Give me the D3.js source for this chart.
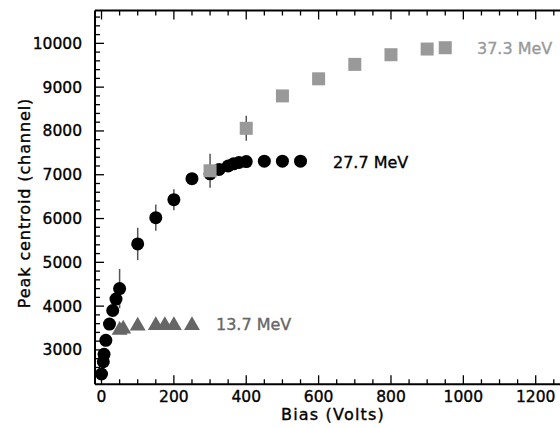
<!DOCTYPE html>
<html><head><meta charset="utf-8">
<script src="https://cdn.jsdelivr.net/npm/d3@7"></script>
<style>
body{margin:0;background:#fff;}
svg{display:block;font-family:"DejaVu Sans",sans-serif;}
text{stroke-width:0.35px;}
</style></head>
<body>
<svg id="c" width="560" height="428"></svg>
<script>
// 27.7 MeV (circles)
const circleVolts = [0,5,7,12,22,31,40,50,100,150,200,250,300,325,350,365,380,400,450,500,550];
const circleCentroid = [2450,2730,2900,3220,3590,3900,4160,4400,5420,6020,6430,6910,7020,7120,7200,7250,7280,7300,7310,7310,7310];
const circleErr = [0,0,0,0,0,0,0,450,370,300,240,0,0,0,0,0,0,0,0,0,0];
// 37.3 MeV (squares)
const squareVolts = [300,400,500,600,700,800,900,950];
const squareCentroid = [7090,8060,8800,9190,9520,9740,9870,9900];
const squareErr = [390,285,0,0,0,0,0,0];
// 13.7 MeV (triangles)
const triVolts = [50,60,100,150,175,200,250];
const triCentroid = [3450,3480,3550,3560,3560,3560,3560];
const xTicks = [0,200,400,600,800,1000,1200];
const yTicks = [3000,4000,5000,6000,7000,8000,9000,10000];
const seriesLabels = ["37.3 MeV","27.7 MeV","13.7 MeV"];

const svg = d3.select("#c");
const x = d3.scaleLinear().domain([-18,1300]).range([95,571.9]);
const y = d3.scaleLinear().domain([2215,10750]).range([384.3,10.5]);

const g = svg.append("g");
const axStroke = "#000";
g.append("line").attr("x1",95).attr("x2",600).attr("y1",384.3).attr("y2",384.3).attr("stroke",axStroke).attr("stroke-width",2);
g.append("line").attr("x1",95).attr("x2",600).attr("y1",10.5).attr("y2",10.5).attr("stroke",axStroke).attr("stroke-width",2);
g.append("line").attr("x1",95).attr("x2",95).attr("y1",10.5).attr("y2",384.3).attr("stroke",axStroke).attr("stroke-width",2);

const xMinor = d3.range(0,1301,50);
xMinor.forEach(v=>{
  const major = v%200===0;
  const L = major?9:5;
  g.append("line").attr("x1",x(v)).attr("x2",x(v)).attr("y1",384.3).attr("y2",384.3-L).attr("stroke","#000").attr("stroke-width",1.3);
  g.append("line").attr("x1",x(v)).attr("x2",x(v)).attr("y1",10.5).attr("y2",10.5+L).attr("stroke","#000").attr("stroke-width",1.3);
});
const yMinor = d3.range(2400,10701,200);
yMinor.forEach(v=>{
  const major = v%1000===0;
  const L = major?9:5;
  g.append("line").attr("x1",95).attr("x2",95+L).attr("y1",y(v)).attr("y2",y(v)).attr("stroke","#000").attr("stroke-width",1.3);
});
g.selectAll(".xl").data(xTicks).enter().append("text")
  .attr("x",d=>x(d)).attr("y",401.5).attr("text-anchor","middle")
  .attr("font-size",15.5).attr("fill","#000").attr("stroke","#000").text(d=>d);
g.selectAll(".yl").data(yTicks).enter().append("text")
  .attr("x",82).attr("y",d=>y(d)+5.5).attr("text-anchor","end")
  .attr("font-size",15.5).attr("fill","#000").attr("stroke","#000").text(d=>d);
g.append("text").attr("x",333).attr("y",420).attr("text-anchor","middle").attr("font-size",16)
  .attr("letter-spacing",1.2).attr("fill","#000").attr("stroke","#000").text("Bias (Volts)");
g.append("text").attr("transform","translate(30,203) rotate(-90)").attr("text-anchor","middle").attr("font-size",16)
  .attr("letter-spacing",0.9).attr("fill","#000").attr("stroke","#000").text("Peak centroid (channel)");

const eb = g.append("g").attr("stroke","#555").attr("stroke-width",1.5);
circleVolts.forEach((v,i)=>{ if(circleErr[i]>0) eb.append("line").attr("x1",x(v)).attr("x2",x(v)).attr("y1",y(circleCentroid[i]-circleErr[i])).attr("y2",y(circleCentroid[i]+circleErr[i])); });
squareVolts.forEach((v,i)=>{ if(squareErr[i]>0) eb.append("line").attr("x1",x(v)).attr("x2",x(v)).attr("y1",y(squareCentroid[i]-squareErr[i])).attr("y2",y(squareCentroid[i]+squareErr[i])); });

g.selectAll(".c").data(circleVolts).enter().append("circle")
  .attr("cx",d=>x(d)).attr("cy",(d,i)=>y(circleCentroid[i])).attr("r",6.5).attr("fill","#000");
const tri = d3.symbol().type(d3.symbolTriangle).size(110);
g.selectAll(".t").data(triVolts).enter().append("path")
  .attr("d",tri).attr("transform",(d,i)=>`translate(${x(d)},${y(triCentroid[i])})`).attr("fill","#666");
g.selectAll(".s").data(squareVolts).enter().append("rect")
  .attr("x",d=>x(d)-6.5).attr("y",(d,i)=>y(squareCentroid[i])-6.5).attr("width",13).attr("height",13).attr("fill","#999");

g.append("text").attr("x",477).attr("y",54).attr("font-size",16).attr("fill","#999").attr("stroke","#999").text(seriesLabels[0]);
g.append("text").attr("x",333).attr("y",168).attr("font-size",16).attr("fill","#000").attr("stroke","#000").text(seriesLabels[1]);
g.append("text").attr("x",216).attr("y",330).attr("font-size",16).attr("fill","#666").attr("stroke","#666").text(seriesLabels[2]);
</script>
</body></html>
